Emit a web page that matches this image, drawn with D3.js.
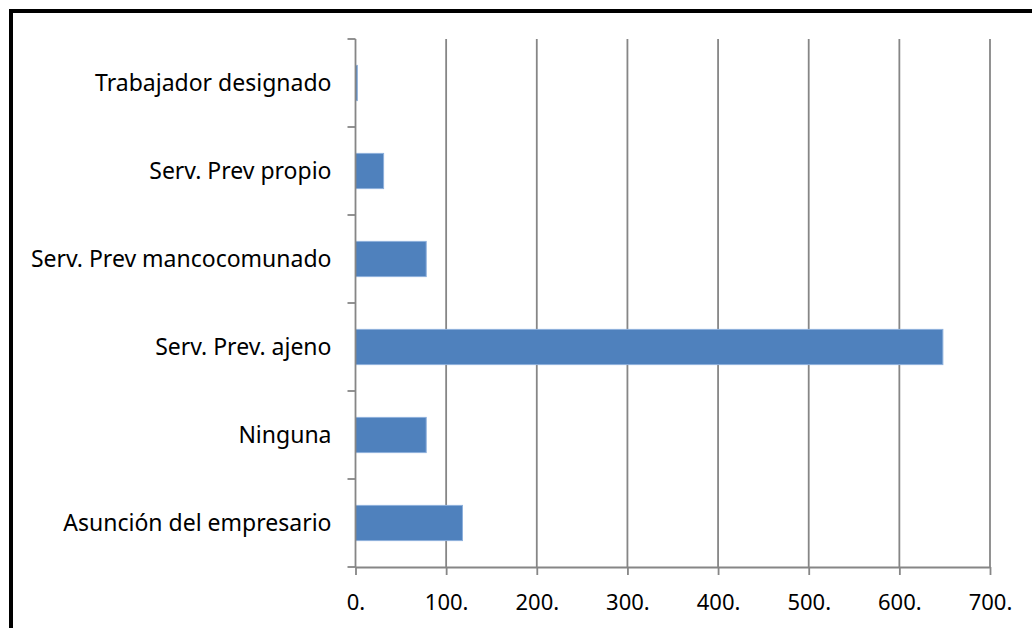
<!DOCTYPE html>
<html>
<head>
<meta charset="utf-8">
<script src="https://cdn.jsdelivr.net/npm/d3@7"></script>
<style>
  body { margin: 0; background: #fff; }
  .axis text { font-family: "Noto Sans", sans-serif; fill: #000; }
</style>
</head>
<body>
<div id="chart"></div>
<script>
// categories, bottom to top as drawn
var categories = ["Asunción del empresario", "Ninguna", "Serv. Prev. ajeno",
    "Serv. Prev mancocomunado", "Serv. Prev propio", "Trabajador designado"];
var values = [118, 78, 648, 78, 31, 2];
var xTicks = [0, 100, 200, 300, 400, 500, 600, 700];
var xTickLabels = ["0.", "100.", "200.", "300.", "400.", "500.", "600.", "700."];

var W = 1032, H = 628;
var margin = { top: 39, right: 42, bottom: 61, left: 355.5 };
var width = W - margin.left - margin.right,
    height = H - margin.top - margin.bottom;

var root = d3.select("#chart").append("svg")
    .attr("width", W)
    .attr("height", H);

// outer frame (right and bottom run off the page)
root.append("rect")
    .attr("x", 11).attr("y", 11)
    .attr("width", W + 20).attr("height", H + 20)
    .attr("fill", "none")
    .attr("stroke", "#000")
    .attr("stroke-width", 4);

var svg = root.append("g")
    .attr("transform", "translate(" + margin.left + "," + margin.top + ")");

var x = d3.scaleLinear()
    .domain([0, 700])
    .range([0, width]);

var y = d3.scaleBand()
    .domain(categories.slice().reverse())
    .range([0, height])
    .paddingInner(0.6)
    .paddingOuter(0.3);

var gray = "#868686";

// vertical gridlines
svg.selectAll(".grid")
    .data(xTicks.filter(function(d){ return d > 0; }))
    .enter().append("line")
    .attr("class", "grid")
    .attr("x1", function(d){ return x(d); })
    .attr("x2", function(d){ return x(d); })
    .attr("y1", 0)
    .attr("y2", height)
    .attr("stroke", gray)
    .attr("stroke-width", 1.8);

// bars
svg.selectAll(".bar")
    .data(values)
    .enter().append("rect")
    .attr("class", "bar")
    .attr("x", x(0))
    .attr("y", function(d, i){ return y(categories[i]); })
    .attr("width", function(d){ return x(d) - x(0); })
    .attr("height", y.bandwidth())
    .attr("fill", "#4F81BD")
    .attr("stroke", "#8DB0DC")
    .attr("stroke-width", 1);

// x axis
var xAxis = d3.axisBottom(x)
    .tickValues(xTicks)
    .tickFormat(function(d, i){ return xTickLabels[i]; })
    .tickSize(8)
    .tickPadding(19)
    .tickSizeOuter(0);

var gx = svg.append("g")
    .attr("class", "x-axis axis")
    .attr("transform", "translate(0," + height + ")")
    .call(xAxis);
gx.select(".domain").attr("stroke", gray).attr("stroke-width", 1.8);
gx.selectAll(".tick line").attr("stroke", gray).attr("stroke-width", 1.8);
gx.selectAll("text").style("font-size", "22px");

// y axis: ticks between categories
var yAxisLine = svg.append("g").attr("class", "y-axis axis");
yAxisLine.append("line")
    .attr("x1", 0).attr("x2", 0)
    .attr("y1", 0).attr("y2", height)
    .attr("stroke", gray).attr("stroke-width", 1.8);

var bounds = d3.range(categories.length + 1).map(function(i){
    return i * height / categories.length;
});
yAxisLine.selectAll(".ytick")
    .data(bounds)
    .enter().append("line")
    .attr("class", "ytick")
    .attr("x1", -8).attr("x2", 0)
    .attr("y1", function(d){ return d; })
    .attr("y2", function(d){ return d; })
    .attr("stroke", gray).attr("stroke-width", 1.8);

yAxisLine.selectAll(".ylabel")
    .data(categories)
    .enter().append("text")
    .attr("class", "ylabel")
    .attr("x", -24)
    .attr("y", function(d){ return y(d) + y.bandwidth() / 2; })
    .attr("dy", "0.35em")
    .attr("text-anchor", "end")
    .style("font-size", "23px")
    .text(function(d){ return d; });
</script>
</body>
</html>
